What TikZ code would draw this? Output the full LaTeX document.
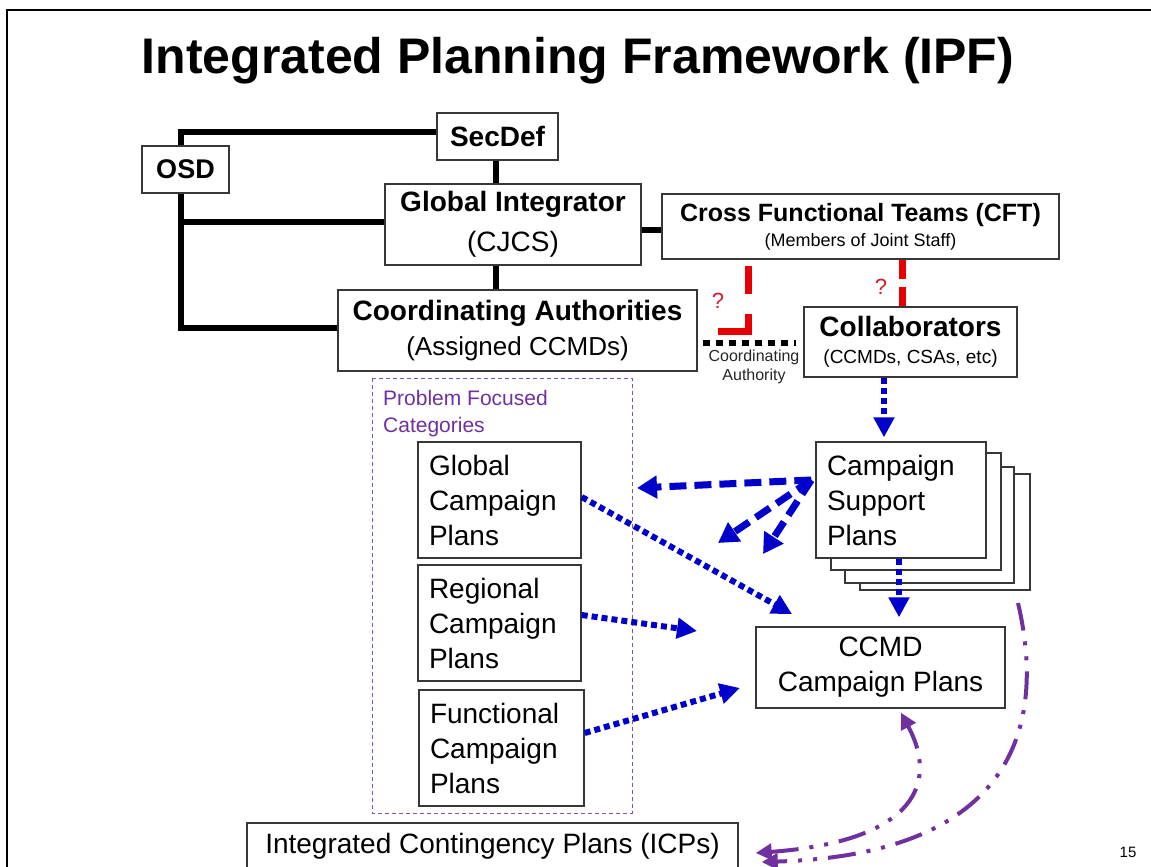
\documentclass[tikz,border=0pt]{standalone}
\usepackage{fontspec}
\setmainfont{Liberation Sans}
\usetikzlibrary{arrows.meta,calc}
\definecolor{myblue}{RGB}{0,0,204}
\definecolor{myred}{RGB}{232,0,0}
\definecolor{qred}{RGB}{210,30,40}
\definecolor{mypurple}{RGB}{112,48,160}
\definecolor{boxline}{RGB}{55,55,55}
\newcommand\fsz[2]{\fontsize{#1}{#2}\selectfont}
\begin{document}
\begin{tikzpicture}[x=1pt,y=-1pt,
  box/.style={draw=boxline,line width=1.4pt,fill=white,inner sep=0pt,align=center},
  planbox/.style={box,align=left,inner xsep=11pt,minimum height=116pt,font=\fsz{28}{35}},
  backbox/.style={draw=boxline,line width=1.4pt,fill=white},
  orgline/.style={line width=6pt,black},
  bluedot/.style={myblue,line width=6pt,dash pattern=on 6pt off 4pt,-{Triangle[length=20pt,width=20pt]}},
  bluedash/.style={myblue,line width=7pt,dash pattern=on 17pt off 8pt,-{Triangle[length=20pt,width=22pt]}},
  reddash/.style={myred,line width=7pt},
  purplearrow/.style={mypurple,line width=4pt,dash pattern=on 28pt off 11pt on 4pt off 11pt on 4pt off 11pt},
  ptip/.tip={Triangle[length=16pt,width=16pt]},
  qmark/.style={text=qred,font=\fsz{22}{22},inner sep=0pt}
]
\fill[white] (0,0) rectangle (1151,867);
\useasboundingbox (0,0) rectangle (1151,867);
\draw[line width=2.5pt] (1151,10) -- (7,10) -- (7,867);

\node[anchor=base,font=\fsz{50}{60}\bfseries,inner sep=0pt] (title) at (578,74) {Integrated Planning Framework (IPF)};

% coordinates for connector x positions
\coordinate (osdx) at (181,0);
\coordinate (sx) at (496,0);
\coordinate (rlx) at (748,265);
\coordinate (rend) at (716,331);
\coordinate (rrx) at (902,0);
\coordinate (ax) at (884,0);
\coordinate (bx) at (899,0);

\node[box,minimum width=87pt,minimum height=47pt,font=\fsz{27}{30}\bfseries] (osd) at (185.5,169.5) {OSD};
\node[box,minimum width=121pt,minimum height=47pt,font=\fsz{28}{30}\bfseries] (secdef) at (497.5,136.5) {SecDef};
\node[box,minimum width=256pt,minimum height=81pt,font=\fsz{28}{40}] (gi) at (513,224.5) {\textbf{Global Integrator}\\(CJCS)};
\node[box,minimum width=397pt,minimum height=65pt,font=\fsz{25}{25}] (cft) at (860.5,226.5) {\textbf{Cross Functional Teams (CFT)}\\{\fsz{18}{25}(Members of Joint Staff)}};
\node[box,minimum width=359pt,minimum height=81pt,font=\fsz{28}{35}] (ca) at (517.5,330.5) {\textbf{Coordinating Authorities}\\{\fsz{26}{35}(Assigned CCMDs)}};
\node[box,minimum width=213pt,minimum height=70pt,font=\fsz{28}{27}] (collab) at (910.5,342) {\textbf{Collaborators}\\{\fsz{19}{27}(CCMDs, CSAs, etc)}};
\node[anchor=north,inner sep=0pt,align=center,font=\fsz{16}{19},text=black!85] (coordlbl) at (754,350) {Coordinating\\Authority};

\draw[orgline] ([xshift=-4.5pt]osd.north) |- ([yshift=4.5pt]secdef.west);
\draw[orgline] ([xshift=-4.5pt]osd.south) |- ([yshift=2.5pt]ca.west);
\path ([yshift=2.5pt]gi.west) coordinate (giw);
\draw[orgline] (giw) -- (giw -| osdx);
\draw[orgline] (sx |- secdef.south) -- (sx |- gi.north);
\draw[orgline] (sx |- gi.south) -- (sx |- ca.north);
\path ([yshift=-5.5pt]gi.east) coordinate (gie);
\draw[orgline] (gie) -- (gie -| cft.west);

% coordinating authority dotted link
\path ([yshift=-12.5pt]ca.east) coordinate (cae);
\draw[black,line width=6pt,dash pattern=on 7pt off 6pt,shorten <=5pt,shorten >=7pt] (cae) -- (cae -| collab.west);

% red dashed links
\draw[reddash,dash pattern=on 28pt off 20pt on 47pt off 20pt,shorten <=6pt] (cft.south -| rlx) |- (rend);
\draw[reddash,dash pattern=on 19pt off 8pt on 40pt off 1pt] (cft.south -| rrx) -- (collab.north -| rrx);
\node[qmark] (q1) at (718,301) {?};
\node[qmark] (q2) at (881,287) {?};

% problem focused categories
\draw[mypurple!85,line width=1pt,dash pattern=on 4pt off 3pt] (372,378) rectangle (632,813);
\node[anchor=north west,inner sep=0pt,align=left,text=mypurple,font=\fsz{21}{27}] (pfc) at (383,390) {Problem Focused\\Categories};
\node[planbox,text width=141pt] (gcp) at (499.5,500) {Global\\Campaign\\Plans};
\node[planbox,text width=141pt] (rcp) at (499.5,623) {Regional\\Campaign\\Plans};
\node[planbox,text width=143pt] (fcp) at (501.5,748) {Functional\\Campaign\\Plans};

% campaign support plans stack
\draw[backbox] (860,474) rectangle (1030,590);
\draw[backbox] (845,467) rectangle (1014,583);
\draw[backbox] (831,453) rectangle (1001,570);
\node[planbox,text width=148pt] (csp) at (901,500) {Campaign\\Support\\Plans};

\node[box,minimum width=249pt,minimum height=81pt,font=\fsz{28}{35}] (ccmd) at (880.5,667.5) {CCMD\\Campaign Plans};
\node[box,minimum width=491pt,minimum height=46pt,font=\fsz{28}{35}] (icp) at (492.5,846) {Integrated Contingency Plans (ICPs)};
\node[anchor=base,inner sep=0pt,font=\fsz{15}{15}] (pgnum) at (1128,857) {15};

% blue dotted arrows
\draw[bluedot,shorten >=4pt] (collab.south -| ax) -- (csp.north -| ax);
\draw[bluedot,shorten >=9pt] (csp.south -| bx) -- (ccmd.north -| bx);
\coordinate (e1) at (792,614);
\coordinate (e2) at (697,631);
\coordinate (e3) at (740,688);
\draw[bluedot] ([yshift=3pt]gcp.east) -- (e1);
\draw[bluedot] ([yshift=8pt]rcp.east) -- (e2);
\draw[bluedot] ([yshift=15pt]fcp.east) -- (e3);

% blue dashed arrows from campaign support plans
\coordinate (cspl) at ([xshift=-4pt,yshift=20pt]csp.west);
\coordinate (d1) at (637,488);
\coordinate (d2) at (718,543);
\coordinate (d3) at (763,554);
\draw[bluedash] (cspl) -- (d1);
\draw[bluedash] (cspl) -- (d2);
\draw[bluedash] (cspl) -- (d3);

% purple dash-dot-dot arrows
\coordinate (pa) at ([xshift=17pt,yshift=-7pt]icp.east);
\coordinate (pb) at ([xshift=20.5pt,yshift=-4pt]ccmd.south);
\draw[purplearrow,ptip-ptip] (pa) .. controls (905,842) and (942,790) .. (pb);
\coordinate (pc) at (1018,603);
\coordinate (pd) at ([xshift=23pt,yshift=-16pt]icp.east);
\draw[purplearrow,-ptip] (pc) .. controls (1050,740) and (1000,855) .. (pd);
\end{tikzpicture}
\end{document}
